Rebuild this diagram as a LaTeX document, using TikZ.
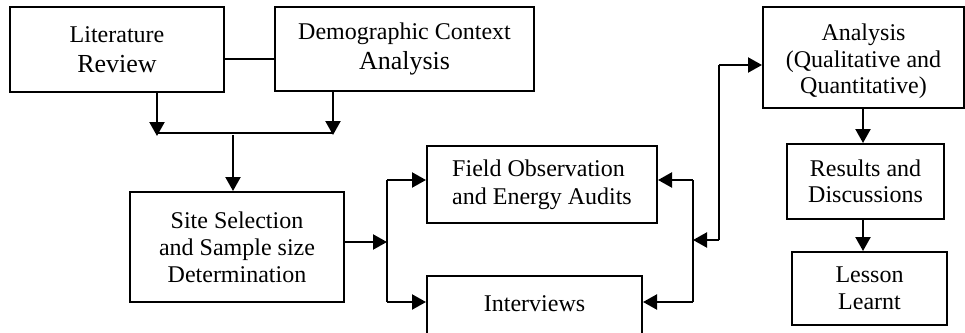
\documentclass[tikz,border=0pt]{standalone}
\usepackage{fontspec}
\setmainfont{Liberation Serif}
\usetikzlibrary{arrows.meta}
\newcommand\fsA{\fontsize{24}{27}\selectfont}
\newcommand\fsT{\fontsize{24}{30}\selectfont}
\newcommand\fsB{\fontsize{26}{30}\selectfont}
\begin{document}
\begin{tikzpicture}[x=1pt,y=-1pt,
  box/.style={draw, line width=2pt, inner sep=0pt, align=center, font=\fsA},
  conn/.style={line width=2.2pt, -{Triangle[length=14pt,width=15pt]}},
  plain/.style={line width=1.8pt}]
\useasboundingbox (0,0) rectangle (965,332);
\clip (0,0) rectangle (965,332);
% boxes
\node[box, font=\fsT, minimum width=214pt, minimum height=85pt] (lit) at (117,49.5) {Literature\\{\fsB Review}};
\node[box, font=\fsT, minimum width=259pt, minimum height=84pt] (demo) at (404.5,49) {Demographic Context\\{\fsB Analysis}};
\node[box, font=\fontsize{24}{26.8}\selectfont, minimum width=214pt, minimum height=110pt] (site) at (237,247) {Site Selection\\and Sample size\\Determination};
\node[box, align=left, font=\fontsize{24}{28}\selectfont, minimum width=230pt, minimum height=77pt] (fo) at (542,184.5) {Field Observation\\and Energy Audits};
\node[box, minimum width=215pt, text height=35pt, text depth=39pt] (int) at (534.5,313) {Interviews};
\node[box, minimum width=201pt, minimum height=101pt] (an) at (863.5,57.5) {};
\node[align=center, inner sep=0pt, font=\fontsize{24}{26.3}\selectfont] (antext) at ([yshift=-4pt]an.center) {Analysis\\(Qualitative and\\Quantitative)};
\node[box, font=\fontsize{24}{26}\selectfont, minimum width=157pt, minimum height=75pt] (res) at (865.5,181.5) {Results and\\Discussions};
\node[box, font=\fontsize{24}{27}\selectfont, minimum width=155pt, minimum height=73pt] (les) at (869.5,288.5) {Lesson\\Learnt};
% junction points
\coordinate (lk) at (0,59);
\coordinate (mL) at (157,133);
\coordinate (mD) at (333,133);
\coordinate (mS) at (233,133);
\coordinate (bL) at (387,242);
\coordinate (bT) at (387,180);
\coordinate (bB) at (387,302);
\coordinate (cT) at (693,180);
\coordinate (cM) at (693,240);
\coordinate (cB) at (693,302);
\coordinate (dA) at (719,65);
\coordinate (dM) at (719,240);
\coordinate (rx) at (863,0);
% connectors
\draw[plain] (lit.east |- lk) -- (demo.west |- lk);
\draw[conn] (lit.south -| mL) -- ([yshift=-3pt]mL);
\draw[conn] (demo.south -| mD) -- ([yshift=-2pt]mD);
\draw[plain] (mL) -- (mD);
\draw[conn] ([yshift=-2pt]mS) -- (site.north -| mS);
\draw[conn] (site.east |- bL) -- (bL);
\draw[plain] (bT) -- (bB);
\draw[conn] (bT) -- (fo.west |- bT);
\draw[conn] (bB) -- (int.west |- bB);
\draw[plain] (cT) -- (cB);
\draw[conn] (cT) -- (fo.east |- cT);
\draw[conn] (cB) -- (int.east |- cB);
\draw[plain] (dM) -- (dA);
\draw[conn] (dA) -- (an.west |- dA);
\draw[conn] (dM) -- (cM);
\draw[conn] (an.south -| rx) -- (res.north -| rx);
\draw[conn] (res.south -| rx) -- (les.north -| rx);
\end{tikzpicture}
\end{document}
